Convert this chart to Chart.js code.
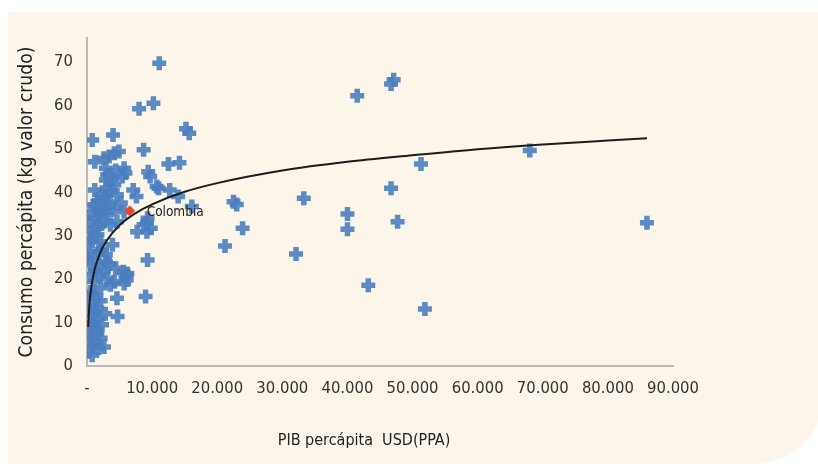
<!DOCTYPE html>
<html lang="es">
<head>
<meta charset="utf-8">
<title>Consumo percápita vs PIB percápita</title>
<script src="https://cdn.jsdelivr.net/npm/chart.js@4.4.1/dist/chart.umd.min.js"></script>
<style>
  html, body { margin: 0; padding: 0; background: #fff; }
  #wrap { position: relative; width: 818px; height: 466px; overflow: hidden; }
  #panel { position: absolute; left: 8px; top: 12px; width: 816px; height: 452px;
           background: #fcf5e9; border-bottom-right-radius: 70px; }
  #chart { position: absolute; left: 0; top: 0; }
</style>
</head>
<body>
<div id="wrap">
  <div id="panel"></div>
  <canvas id="chart" width="818" height="466"></canvas>
</div>
<script>
// Consumo percápita vs PIB percápita (países)
const FONT = "'Liberation Sans Narrow', 'DejaVu Sans Condensed', 'DejaVu Sans', sans-serif";

// ── Datos ─────────────────────────────────────────────────
const pibPaises = [
  11100, 8000, 10200, 15200, 15700, 800, 4000, 8700, 12500, 14200,
  1200, 1200, 22500, 23000, 23900, 21200, 33300, 32100, 40000, 40000,
  43200, 46700, 47700, 51300, 41500, 47100, 46700, 68000, 86000, 51900,
  16100, 12700, 14000, 10700, 9700, 9400, 7600, 7100, 9300, 8700,
  9800, 7700, 3900, 9300, 4600, 9000, 4700, 6100, 5600, 6100,
  11000, 9200, 9200,
  2600, 3400, 4200, 4900, 5700, 3100, 2900, 5400, 5900, 4200,
  3600, 4600, 3100, 2300, 2100, 3100, 4200, 5200, 2600, 1800,
  3600, 4600, 5700, 2300, 3000, 2600, 3900, 4400, 1900, 3400, 2900,
  600, 800, 300, 1100, 600, 1800, 2900, 2600, 1800, 600,
  3100, 4200, 3600, 5900, 6200, 5700, 1100, 2100, 800, 1300,
  2300, 3400, 4400,
  600, 1100, 300, 1600, 800, 1800, 600, 1300, 2100, 300,
  800, 1800, 300, 800, 1300, 2600, 2100, 1300, 1000, 600,
  1600, 2300, 2800,
  600, 1100, 1600, 300, 1300, 1600, 600, 1600, 2100, 1800, 2900, 100
];
const consumoPaises = [
  69.7, 59.2, 60.5, 54.6, 53.6, 52.0, 53.2, 49.8, 46.5, 46.8,
  47.0, 40.5, 37.8, 37.2, 31.7, 27.6, 38.6, 25.8, 35.0, 31.5,
  18.6, 40.9, 33.2, 46.5, 62.2, 65.9, 64.9, 49.6, 33.0, 13.1,
  36.7, 40.5, 39.0, 41.3, 43.6, 44.7, 39.0, 40.5, 34.0, 32.5,
  31.7, 30.9, 27.9, 24.4, 15.6, 16.0, 11.4, 21.0, 21.7, 19.8,
  40.9, 30.9, 32.9,
  47.8, 48.2, 49.0, 49.4, 45.5, 44.0, 42.8, 43.6, 44.4, 41.7,
  40.1, 39.4, 37.8, 36.3, 34.8, 34.8, 36.3, 37.5, 33.2, 32.5,
  32.5, 33.2, 35.5, 39.5, 41.0, 38.5, 43.0, 45.0, 36.0, 36.5, 45.5,
  30.9, 28.6, 26.3, 24.8, 23.3, 23.3, 24.0, 21.7, 21.0, 21.0,
  20.2, 19.4, 18.7, 20.6, 21.3, 19.0, 19.5, 18.0, 16.5, 22.0,
  26.8, 23.5, 22.5,
  17.1, 15.6, 14.0, 13.3, 11.7, 11.0, 9.4, 8.7, 6.4, 7.1,
  4.8, 4.1, 3.3, 2.5, 5.6, 4.4, 15.0, 12.5, 10.0, 6.5,
  7.5, 9.5, 12.0,
  35.5, 37.1, 37.8, 33.2, 34.0, 31.7, 29.4, 30.2, 28.6, 26.3, 25.6, 24.8
];

const colombiaPib = [6550];
const colombiaConsumo = [35.7];

// línea de tendencia
const tendenciaPib = [180, 300, 500, 1000, 2000, 3000, 5000, 7500, 10000, 15000,
                      20000, 30000, 40000, 50000, 60000, 70000, 80000, 86000];
const tendenciaConsumo = [9.0, 12.6, 16.2, 21.1, 26.0, 28.8, 32.4, 35.2, 37.2, 40.1,
                          42.1, 45.0, 47.0, 48.5, 49.9, 51.0, 51.9, 52.4];

const xTicks = [0, 10000, 20000, 30000, 40000, 50000, 60000, 70000, 80000, 90000];
const yTicks = [0, 10, 20, 30, 40, 50, 60, 70];

const toXY = (xs, ys) => xs.map((x, i) => ({ x, y: ys[i] }));
const fmtMiles = (v) => v === 0 ? '-' : String(v).replace(/\B(?=(\d{3})+(?!\d))/g, '.');

// ── Etiqueta "Colombia" ───────────────────────────────────
const etiquetaColombia = {
  id: 'etiquetaColombia',
  afterDatasetsDraw(chart) {
    const pt = chart.getDatasetMeta(0).data[0];
    if (!pt) return;
    const ctx = chart.ctx;
    ctx.save();
    ctx.font = '13.5px ' + FONT;
    ctx.fillStyle = '#222';
    ctx.textBaseline = 'middle';
    ctx.fillText('Colombia', pt.x + 17, pt.y + 2);
    ctx.restore();
  }
};

Chart.defaults.font.family = FONT;
Chart.defaults.color = '#333';

new Chart(document.getElementById('chart'), {
  type: 'scatter',
  data: {
    datasets: [
      {
        label: 'Colombia',
        data: toXY(colombiaPib, colombiaConsumo),
        pointStyle: 'rectRot',
        pointRadius: 5,
        backgroundColor: '#e8472c',
        borderColor: '#e8472c',
        borderWidth: 1,
      },
      {
        label: 'Tendencia',
        data: toXY(tendenciaPib, tendenciaConsumo),
        showLine: true,
        pointRadius: 0,
        borderColor: '#1c1c1c',
        borderWidth: 2,
        cubicInterpolationMode: 'monotone',
      },
      {
        label: 'Países',
        data: toXY(pibPaises, consumoPaises),
        pointStyle: 'cross',
        pointRadius: 7,
        borderWidth: 5.5,
        borderColor: 'rgba(74,126,191,0.9)',
        backgroundColor: 'rgba(74,126,191,0.9)',
      }
    ]
  },
  options: {
    responsive: false,
    animation: false,
    events: [],
    layout: { padding: { left: 0, top: 38, right: 145, bottom: 0 } },
    plugins: { legend: { display: false }, tooltip: { enabled: false } },
    scales: {
      x: {
        type: 'linear',
        min: 0,
        max: 90000,
        grid: { display: false, drawTicks: false },
        border: { color: '#b9b9b9', width: 2 },
        afterBuildTicks: (s) => { s.ticks = xTicks.map(v => ({ value: v })); },
        ticks: { font: { size: 16.5 }, color: '#333', padding: 13, maxRotation: 0, callback: fmtMiles },
        title: { display: true, text: 'PIB percápita  USD(PPA)       ', font: { size: 16 }, color: '#222', padding: { bottom: 16 } },
        afterFit: (s) => { s.height = 100; }
      },
      y: {
        min: 0,
        max: 75.5,
        grid: { display: false, drawTicks: false },
        border: { color: '#b9b9b9', width: 2 },
        afterBuildTicks: (s) => { s.ticks = yTicks.map(v => ({ value: v })); },
        ticks: { font: { size: 16.5 }, color: '#333', padding: 14 },
        title: { display: true, text: 'Consumo percápita (kg valor crudo)', font: { size: 19.2 }, color: '#222', padding: { top: 15 } },
        afterFit: (s) => { s.width = 87; }
      }
    }
  },
  plugins: [etiquetaColombia]
});
</script>
</body>
</html>
